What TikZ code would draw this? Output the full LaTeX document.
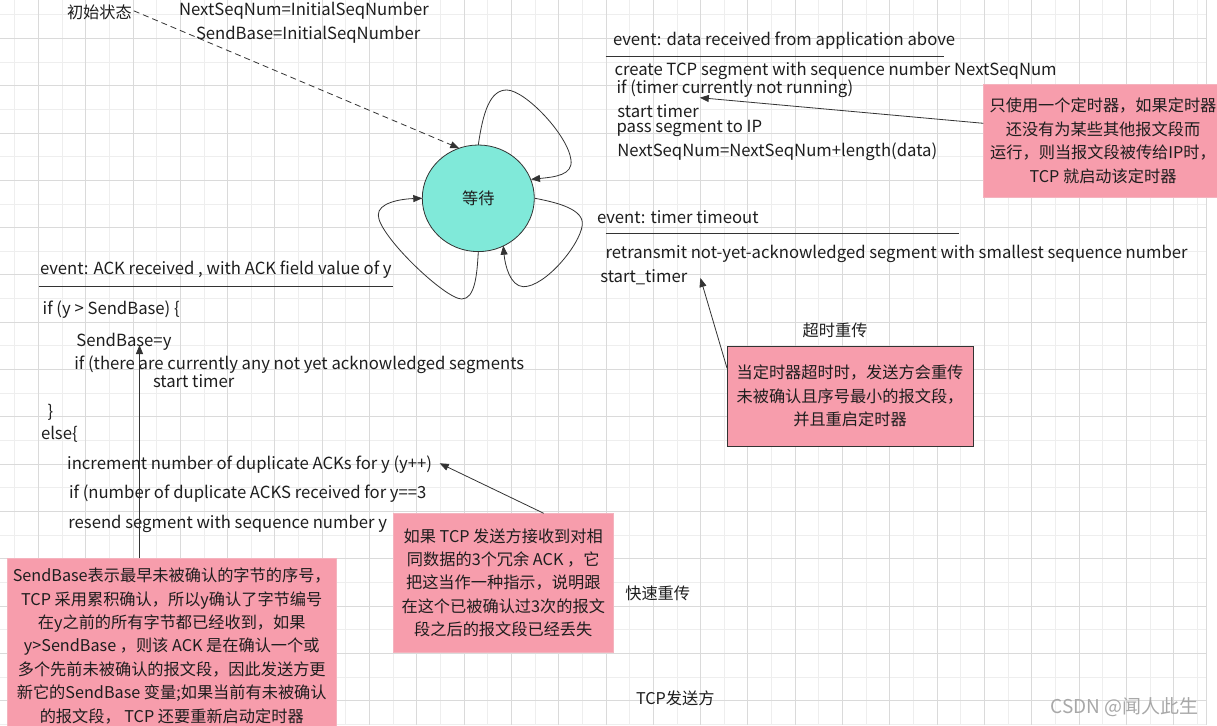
\documentclass[tikz,border=0pt]{standalone}
\usepackage{fontspec}
\setmainfont{Noto Sans CJK SC}
\usetikzlibrary{arrows.meta,shapes.geometric}
\definecolor{gridmin}{HTML}{EEEEEE}
\definecolor{gridmaj}{HTML}{DADADA}
\definecolor{pinkbox}{HTML}{F79DAC}
\definecolor{pinkedge}{HTML}{F4B3BE}
\definecolor{waitcol}{HTML}{80E9D9}
\definecolor{ink}{HTML}{333333}
\definecolor{txt}{HTML}{1E1E1E}
\definecolor{wmark}{HTML}{A8A8A8}
\begin{document}
\begin{tikzpicture}[x=1pt,y=-1pt,
  every node/.style={inner sep=0pt, outer sep=0pt, text=txt,
    font=\fontsize{16.2}{23.4}\selectfont},
  label/.style={anchor=base west},
  code/.style={anchor=base west, font=\fontsize{16.7}{20}\selectfont},
  conn/.style={draw=ink, line width=0.8pt, -{Triangle[length=9pt,width=7pt]}},
  selfarc/.style={draw=ink, line width=0.8pt, -{Triangle[length=9pt,width=7pt]}},
  rule/.style={draw=ink, line width=0.9pt},
  note/.style={fill=pinkbox, draw=pinkedge, line width=0.6pt, align=center},
  darknote/.style={fill=pinkbox, draw=ink, line width=0.9pt, align=center},
  gmin/.style={draw=gridmin, line width=0.8pt},
  gmaj/.style={draw=gridmaj, line width=0.8pt},
]
\useasboundingbox (0,0) rectangle (1217,725);
\fill[white] (0,0) rectangle (1217,725);
% grid
\foreach \k in {0,2,...,50} \draw[gmin] ({14.7+23.65*\k},0) -- ({14.7+23.65*\k},725);
\foreach \k in {0,2,...,30} \draw[gmin] (0,{14.7+23.65*\k}) -- (1206,{14.7+23.65*\k});
\foreach \k in {1,3,...,49} \draw[gmaj] ({14.7+23.65*\k},0) -- ({14.7+23.65*\k},725);
\foreach \k in {1,3,...,29} \draw[gmaj] (0,{14.7+23.65*\k}) -- (1206,{14.7+23.65*\k});
\draw[gmaj] (1206,0) -- (1206,725);

% state
\node[ellipse, draw=ink, fill=waitcol, line width=0.8pt, minimum width=112pt, minimum height=106.6pt] (wait) at (478.3,198.3) {等待};

% initial
\node[label] (init) at (67,19) {初始状态};
\node[code] (initA) at (179,16) {NextSeqNum=InitialSeqNumber};
\node[code] (initB) at (196,40) {SendBase=InitialSeqNumber};
\coordinate (tipInit) at (459.3,148.3);
\draw[conn, dash pattern=on 6pt off 4pt] ([xshift=2pt,yshift=2pt]init.east) -- (tipInit);

% self loops
\draw[selfarc] (478.3,145) .. controls (483,112) and (490,90) .. (506.7,90)
  .. controls (525,90) and (568,135) .. (571,160)
  .. controls (573,175) and (555,177) .. (531,179.3);
\draw[selfarc] (535,198.3) .. controls (560,203) and (584,210) .. (582.3,225)
  .. controls (580,245) and (545,287) .. (523.3,286.7)
  .. controls (510,286) and (505,265) .. (503.3,245.7);
\draw[selfarc] (478.3,251.7) .. controls (477,275) and (475,299) .. (461.7,299)
  .. controls (445,299) and (378,235) .. (378.3,215)
  .. controls (378,203) and (400,199) .. (422.3,198.3);

% data event
\node[code] (evData) at (613,45.3) {event: data received from application above};
\draw[rule] (605.6,56.7) -- (944.4,56.7);
\node[code] (d1) at (614.5,75.3) {create TCP segment with sequence number NextSeqNum};
\node[code] (d2) at (616.6,93.3) {if (timer currently not running)};
\node[code] (d3) at (617.4,117) {start timer};
\node[code] (d4) at (616.6,132) {pass segment to IP};
\node[code] (d5) at (617.4,156) {NextSeqNum=NextSeqNum+length(data)};
\node[note, minimum width=239.2pt, minimum height=113.7pt] (n1) at (1103,140.85)
  {只使用一个定时器，如果定时器\\还没有为某些其他报文段而\\运行，则当报文段被传给IP时，\\TCP 就启动该定时器};
\coordinate (tipD) at (699.8,97.7);
\draw[conn] (n1.west |- 0,123.3) -- (tipD);

% timeout event
\node[code] (evTo) at (597,223.3) {event: timer timeout};
\draw[rule] (605.6,233.3) -- (959,233.3);
\node[code] (t1) at (605.6,258.3) {retransmit not-yet-acknowledged segment with smallest sequence number};
\node[code] (t2) at (600.3,282) {start\_timer};
\node[label] (lblTo) at (802.7,336) {超时重传};
\node[darknote, minimum width=245.9pt, minimum height=100pt] (n4) at (850,396)
  {当定时器超时时，发送方会重传\\未被确认且序号最小的报文段，\\并且重启定时器};
\coordinate (tipT) at (700.4,278);
\draw[conn] (n4.west |- 0,368.3) -- (tipT);

% ACK event
\node[code] (evAck) at (40,274) {event: ACK received , with ACK field value of y};
\draw[rule] (38.5,286) -- (393,286);
\node[code] (a1) at (42.7,314.3) {if (y > SendBase) \{};
\node[code] (a2) at (76.3,346.7) {SendBase=y};
\node[code] (a3) at (74.3,369.3) {if (there are currently any not yet acknowledged segments};
\node[code] (a4) at (153,387) {start timer};
\node[code] (a5) at (47.5,417.7) {\}};
\node[code] (a6) at (41,439.3) {else\{};
\node[code] (a7) at (67.2,469.3) {increment number of duplicate ACKs for y (y++)};
\node[code] (a8) at (69,498.3) {if (number of duplicate ACKS received for y==3};
\node[code] (a9) at (68.4,528.3) {resend segment with sequence number y};

\node[note, minimum width=219.5pt, minimum height=139pt] (n2) at (503.25,582.8)
  {如果 TCP 发送方接收到对相\\同数据的3个冗余 ACK ，它\\把这当作一种指示，说明跟\\在这个已被确认过3次的报文\\段之后的报文段已经丢失};
\coordinate (tipF) at (439.7,463.3);
\draw[conn] (543.7,0 |- n2.north) -- (tipF);
\node[label] (lblFast) at (625.3,599.3) {快速重传};

\node[note, minimum width=329.7pt, minimum height=175pt] (n3) at (171.75,645.85)
  {SendBase表示最早未被确认的字节的序号，\\TCP 采用累积确认，所以y确认了字节编号\\在y之前的所有字节都已经收到，如果\\y>SendBase ，则该 ACK 是在确认一个或\\多个先前未被确认的报文段，因此发送方更\\新它的SendBase 变量;如果当前有未被确认\\的报文段， TCP 还要重新启动定时器};
\coordinate (tipS) at (139.5,345);
\draw[conn] (tipS |- n3.north) -- (tipS);

\node[label] (title) at (636,704.3) {TCP发送方};
\node[anchor=base west, text=wmark, font=\fontsize{19}{22}\selectfont] (wm) at (1050.6,713.5) {CSDN @闻人此生};
\end{tikzpicture}
\end{document}
